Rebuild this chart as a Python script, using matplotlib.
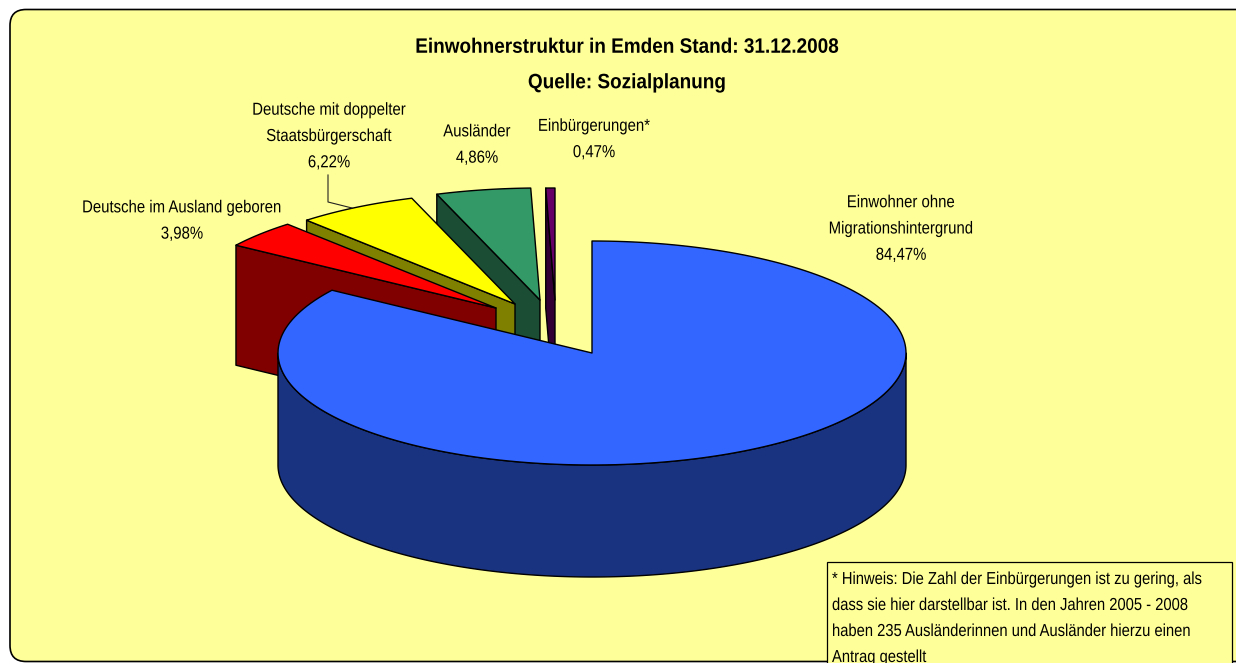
import numpy as np
import matplotlib
matplotlib.use('Agg')
import matplotlib.pyplot as plt
from matplotlib.patches import FancyBboxPatch, Polygon, Rectangle
from matplotlib.patheffects import AbstractPathEffect
from matplotlib.text import Text
from matplotlib.transforms import Affine2D, Bbox

plt.rcParams['font.family'] = ['Liberation Sans']

# data
names = ['Einwohner ohne\nMigrationshintergrund', 'Deutsche im Ausland geboren',
         'Deutsche mit doppelter\nStaatsbürgerschaft', 'Ausländer', 'Einbürgerungen*']
shares = [84.47, 3.98, 6.22, 4.86, 0.47]
title = 'Einwohnerstruktur in Emden Stand: 31.12.2008\nQuelle: Sozialplanung'
note = ['* Hinweis: Die Zahl der Einbürgerungen ist zu gering, als',
        'dass sie hier darstellbar ist. In den Jahren 2005 - 2008',
        'haben 235 Ausländerinnen und Ausländer hierzu einen',
        'Antrag gestellt']

# styles, pixel layout
top_colors = ['#3366FF', '#FF0000', '#FFFF00', '#339966', '#660066']
wall_colors = ['#1A3380', '#800000', '#808000', '#1A4D33', '#330033']
apex_x = [592, 496, 515, 540, 555]
apex_y = [353, 308, 304, 300, 300]
depth = [112, 120, 120, 120, 120]
label_x = [901, 182, 329, 477, 594]
label_y = [229, 221, 136.5, 145, 139.5]
rx, ry = 314, 112


# the original font is a narrow one: squeeze the glyphs sideways around cx
class Squeeze(AbstractPathEffect):
    def __init__(self, cx, sx):
        super().__init__()
        self.cx, self.sx = cx, sx

    def draw_path(self, renderer, gc, tpath, affine, rgbFace=None):
        sq = Affine2D().translate(-self.cx, 0).scale(self.sx, 1).translate(self.cx, 0)
        renderer.draw_path(gc, tpath, affine + sq, rgbFace)


class NarrowText(Text):
    def __init__(self, x, y, s, sx=0.86, cx=None, **kw):
        super().__init__(x, y, s, **kw)
        self.sx = sx
        self.cx = x if cx is None else cx
        self.set_path_effects([Squeeze(self.cx, sx)])

    def get_window_extent(self, renderer=None, dpi=None):
        b = super().get_window_extent(renderer, dpi)
        return Bbox.from_extents(self.cx + (b.x0 - self.cx) * self.sx, b.y0,
                                 self.cx + (b.x1 - self.cx) * self.sx, b.y1)


fig = plt.figure(figsize=(12.36, 6.63), dpi=100)
ax = fig.add_axes([0, 0, 1, 1])
ax.set_xlim(0, 1236)
ax.set_ylim(663, 0)
ax.axis('off')

ax.add_patch(FancyBboxPatch((10, 9.5), 1260, 652, boxstyle='round,pad=0,rounding_size=16',
                            fc='#FFFF99', ec='black', lw=1.2, clip_on=True))


def rim(cx, cy, a, b):
    t = np.radians(np.linspace(a, b, 200))
    return np.column_stack([cx + rx * np.sin(t), cy - ry * np.cos(t)])


edges = np.concatenate([[0], np.cumsum(shares)]) * 3.6

# back slices first, the big one last
for i in [4, 3, 2, 1, 0]:
    a, b = edges[i], edges[i + 1]
    cx, cy, d = apex_x[i], apex_y[i], depth[i]
    if i == 0:
        arc = rim(cx, cy, 90, 270)
        wall = np.vstack([arc, (arc + [0, d])[::-1]])
    else:
        p = rim(cx, cy, a, a)[0]
        wall = np.array([p, [cx, cy], [cx, cy + d], p + [0, d]])
    ax.add_patch(Polygon(wall, fc=wall_colors[i], ec='black', lw=1.0, joinstyle='round'))
    top = np.vstack([[cx, cy], rim(cx, cy, a, b)])
    ax.add_patch(Polygon(top, fc=top_colors[i], ec='black', lw=1.0, joinstyle='round'))

# leader of the yellow slice
ax.plot([328, 328, 352], [175, 202, 208], color='#222222', lw=0.8)


def add_text(x, y, s, **kw):
    ax.add_artist(NarrowText(x, y, s, transform=ax.transData, color='black', **kw))


add_text(627.5, 65, title, sx=0.91, ha='center', va='center', fontsize=15, fontweight='bold',
         linespacing=2.1)

for n, s, x, y in zip(names, shares, label_x, label_y):
    label = n + '\n' + f'{s:.2f}'.replace('.', ',') + '%'
    add_text(x, y, label, ha='center', va='center', fontsize=12.5, linespacing=1.94)

ax.add_patch(Rectangle((827, 562), 405, 120, fc='#FFFF99', ec='black', lw=0.9))
# anchor 800 with centre 1014 lands the left edge on x=832 after the squeeze
for k, line in enumerate(note):
    add_text(800, 584 + 26 * k, line, sx=0.85, cx=1013.3, ha='left', va='baseline', fontsize=12.5)

fig.savefig('out.png', dpi=100)
